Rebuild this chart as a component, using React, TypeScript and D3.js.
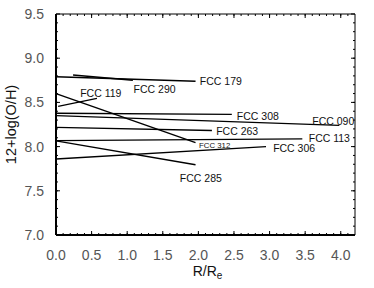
import React from "react";
import { scaleLinear, range } from "d3";

const width = 374;
const height = 288;
const margin = { top: 14, right: 19, bottom: 53, left: 56 };
const innerWidth = width - margin.left - margin.right;
const innerHeight = height - margin.top - margin.bottom;

// galaxy names and gradient end points (R/Re, 12+log(O/H))
const names = ["FCC 179", "FCC 290", "FCC 119", "FCC 312", "FCC 308", "FCC 090", "FCC 263", "FCC 113", "FCC 285", "FCC 306"];
const x0 = [0.0, 0.24, 0.03, 0.0, 0.0, 0.0, 0.0, 0.0, 0.0, 0.0];
const y0 = [8.79, 8.81, 8.455, 8.6, 8.378, 8.35, 8.218, 8.068, 8.065, 7.86];
const x1 = [1.96, 1.08, 0.575, 1.96, 2.47, 3.98, 2.19, 3.46, 1.96, 2.95];
const y1 = [8.74, 8.75, 8.545, 8.045, 8.364, 8.24, 8.182, 8.087, 7.795, 8.0];
// label anchor (data coords) and font size
const lx = [2.02, 1.09, 0.34, 2.01, 2.54, 3.6, 2.25, 3.55, 1.74, 3.05];
const ly = [8.735, 8.65, 8.6, 8.02, 8.345, 8.29, 8.175, 8.09, 7.64, 7.985];
const lsize = [10.5, 10.5, 10.5, 7.8, 10.5, 10.5, 10.5, 10.5, 10.5, 10.5];

const xTicks = [0, 0.5, 1, 1.5, 2, 2.5, 3, 3.5, 4];
const yTicks = [7.0, 7.5, 8.0, 8.5, 9.0, 9.5];

const font = "'Liberation Sans', Arial, sans-serif";

export default function App() {
  const xScale = scaleLinear().domain([0, 4.2]).range([0, innerWidth]);
  const yScale = scaleLinear().domain([7.0, 9.5]).range([innerHeight, 0]);
  const xMinor = range(0, 4.2, 0.1);
  const yMinor = range(7.0, 9.5, 0.1);

  return (
    <svg width={width} height={height} style={{ position: "absolute", left: 0, top: 0 }}>
      <rect width={width} height={height} fill="#fff" />
      <g transform={`translate(${margin.left},${margin.top})`}>
        {/* minor ticks */}
        {xMinor.map((t, i) => (
          <g key={"xm" + i}>
            <line x1={xScale(t)} x2={xScale(t)} y1={innerHeight} y2={innerHeight - 2} stroke="#000" strokeWidth={1} />
            <line x1={xScale(t)} x2={xScale(t)} y1={0} y2={2} stroke="#000" strokeWidth={1} />
          </g>
        ))}
        {yMinor.map((t, i) => (
          <g key={"ym" + i}>
            <line x1={0} x2={2} y1={yScale(t)} y2={yScale(t)} stroke="#000" strokeWidth={1} />
            <line x1={innerWidth} x2={innerWidth - 2} y1={yScale(t)} y2={yScale(t)} stroke="#000" strokeWidth={1} />
          </g>
        ))}
        {/* major ticks */}
        {xTicks.map((t) => (
          <g key={"x" + t}>
            <line x1={xScale(t)} x2={xScale(t)} y1={innerHeight} y2={innerHeight - 4} stroke="#000" />
            <line x1={xScale(t)} x2={xScale(t)} y1={0} y2={4} stroke="#000" />
            <text x={xScale(t)} y={innerHeight + 25} textAnchor="middle" fontFamily={font} fontSize={14} fill="#555">
              {t.toFixed(1)}
            </text>
          </g>
        ))}
        {yTicks.map((t) => (
          <g key={"y" + t}>
            <line x1={0} x2={4} y1={yScale(t)} y2={yScale(t)} stroke="#000" />
            <line x1={innerWidth} x2={innerWidth - 4} y1={yScale(t)} y2={yScale(t)} stroke="#000" />
            <text x={-12} y={yScale(t)} dy="0.35em" textAnchor="end" fontFamily={font} fontSize={14} fill="#555">
              {t.toFixed(1)}
            </text>
          </g>
        ))}
        {/* frame */}
        <line x1={0} x2={innerWidth} y1={0} y2={0} stroke="#000" strokeWidth={1} />
        <line x1={innerWidth} x2={innerWidth} y1={0} y2={innerHeight} stroke="#000" strokeWidth={1} />
        <line x1={0} x2={0} y1={0} y2={innerHeight} stroke="#000" strokeWidth={2} />
        <line x1={0} x2={innerWidth} y1={innerHeight} y2={innerHeight} stroke="#000" strokeWidth={2} />

        {/* gradients */}
        {names.map((n, i) => (
          <g key={n}>
            <line
              x1={xScale(x0[i])}
              y1={yScale(y0[i])}
              x2={xScale(x1[i])}
              y2={yScale(y1[i])}
              stroke="#000"
              strokeWidth={1.4}
            />
            <text x={xScale(lx[i])} y={yScale(ly[i])} dy="0.35em" fontFamily={font} fontSize={lsize[i]} fill="#111">
              {n}
            </text>
          </g>
        ))}
      </g>
      <text
        transform={`translate(16,${margin.top + innerHeight / 2}) rotate(-90)`}
        textAnchor="middle"
        fontFamily={font}
        fontSize={14.5}
        fill="#111"
      >
        12+log(O/H)
      </text>
      <text x={margin.left + innerWidth / 2 + 2} y={276} textAnchor="middle" fontFamily={font} fontSize={14} fill="#111">
        R/R<tspan fontSize={10} dy={3}>e</tspan>
      </text>
    </svg>
  );
}
